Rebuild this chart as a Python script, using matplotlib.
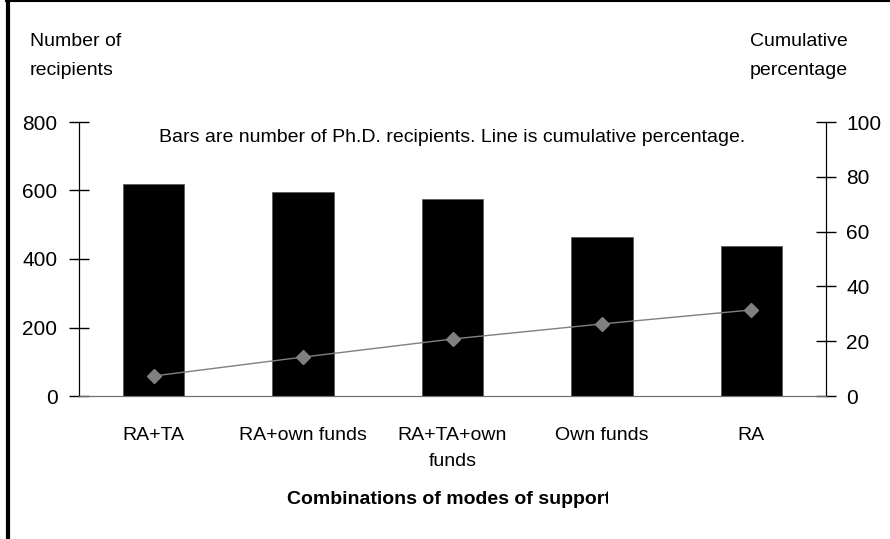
import numpy as np
import matplotlib
matplotlib.use('Agg')
import matplotlib.pyplot as plt
from matplotlib.lines import Line2D
from matplotlib.patches import Rectangle

categories = ['RA+TA', 'RA+own funds', 'RA+TA+own\nfunds', 'Own funds', 'RA']
recipients = [619, 596, 574, 465, 439]
cum_pct = [7.3, 14.2, 20.8, 26.3, 31.4]

plt.rcParams['font.family'] = ['Liberation Sans', 'DejaVu Sans']
FS = 14

fig = plt.figure(figsize=(8.9, 5.39), dpi=100)
ax = fig.add_axes([79/890, 1-396/539, (826-79)/890, (396-122)/539])
ax2 = ax.twinx()

x = np.arange(len(categories))
ax.bar(x, recipients, width=0.41, color='black', edgecolor='#555555', linewidth=0.5, zorder=2)
ax.set_ylim(0, 800)
ax.set_xlim(-0.5, len(categories)-0.5)
ax.set_yticks([0, 200, 400, 600, 800])
ax.set_xticks(x)
ax.set_xticklabels(categories, fontsize=FS, linespacing=1.75)
ax.tick_params(axis='x', length=0, pad=22)
ax.tick_params(axis='y', direction='inout', length=15, width=1, labelsize=FS+1, pad=8)

ax2.plot(x, cum_pct, color='#808080', linewidth=1, marker='D', markersize=7,
         markerfacecolor='#808080', markeredgecolor='#808080', zorder=3)
ax2.set_ylim(0, 100)
ax2.set_yticks([0, 20, 40, 60, 80, 100])
ax2.tick_params(axis='y', direction='inout', length=15, width=1, labelsize=FS+1, pad=7)

for a in (ax, ax2):
    a.spines['top'].set_visible(False)
    a.spines['bottom'].set_color('#707070')
    a.spines['left'].set_color('black')
    a.spines['right'].set_color('black')

ax.set_zorder(ax2.get_zorder() - 1)
ax2.patch.set_visible(False)

fig.text(30/890, 1-33/539, 'Number of\nrecipients', fontsize=FS, ha='left', va='top', linespacing=1.9)
fig.text(750/890, 1-33/539, 'Cumulative\npercentage', fontsize=FS, ha='left', va='top', linespacing=1.9)
fig.text(452/890, 1-137/539, 'Bars are number of Ph.D. recipients. Line is cumulative percentage.',
         fontsize=FS, ha='center', va='center')

xl = fig.text(449/890, 1-500/539, 'Combinations of modes of support', fontsize=FS,
              fontweight='bold', ha='center', va='center')
clip = Rectangle((0, 0), 608/890, 1, transform=fig.transFigure, visible=False)
fig.add_artist(clip)
xl.set_clip_path(clip)

fig.add_artist(Line2D([8/890, 8/890], [0, 1], transform=fig.transFigure, color='black', linewidth=3))
fig.add_artist(Line2D([6/890, 1], [1-0.8/539, 1-0.8/539], transform=fig.transFigure, color='black', linewidth=1.5))

fig.savefig('out.png', dpi=100)
